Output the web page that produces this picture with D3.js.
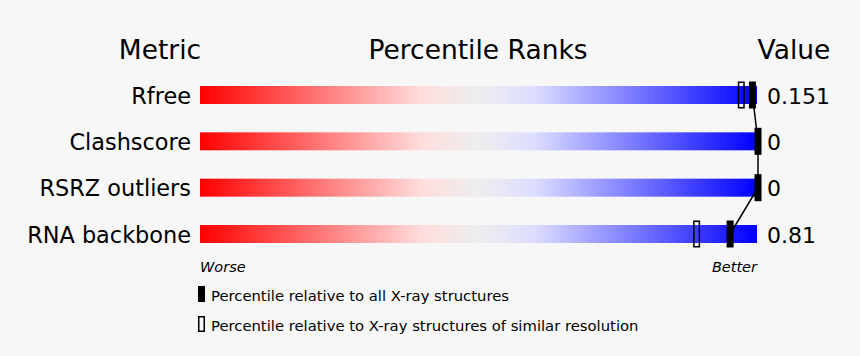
<!DOCTYPE html>
<html><head><meta charset="utf-8">
<script src="https://cdn.jsdelivr.net/npm/d3@7"></script>
<style>body{margin:0;background:#f7f7f7}svg{display:block;font-family:"DejaVu Sans",sans-serif}</style>
</head><body><svg id="c" width="860" height="356"></svg>
<script>
const metrics = ["Rfree", "Clashscore", "RSRZ outliers", "RNA backbone"];
const values = ["0.151", "0", "0", "0.81"];
const pctAll = [99, 100, 100, 95];
const pctSimilar = [97, null, null, 89];
const headers = ["Metric", "Percentile Ranks", "Value"];
const legendLabels = ["Percentile relative to all X-ray structures", "Percentile relative to X-ray structures of similar resolution"];

const svg = d3.select("#c");
svg.append("rect").attr("width",860).attr("height",356).attr("fill","#f7f7f7");
const defs = svg.append("defs");
const g = defs.append("linearGradient").attr("id","grad").attr("x1","0%").attr("x2","100%");
[[0,"#ff0000"],[0.4,"#ffdddd"],[0.5,"#eeeeee"],[0.6,"#ddddff"],[1,"#0000ff"]].forEach(s=>g.append("stop").attr("offset",s[0]).attr("stop-color",s[1]));

const x = d3.scaleLinear().domain([0,100]).range([200,758]);
const y = d3.scalePoint().domain(metrics).range([95,234]);
const barH = 18, mW = 7, mH = 27;

svg.append("text").attr("x",160).attr("y",59).attr("text-anchor","middle").attr("font-size",26.5).text(headers[0]);
svg.append("text").attr("x",478).attr("y",59).attr("text-anchor","middle").attr("font-size",26.5).text(headers[1]);
svg.append("text").attr("x",794).attr("y",59).attr("text-anchor","middle").attr("font-size",26.5).text(headers[2]);

metrics.forEach((m,i)=>{
  const cy = y(m);
  svg.append("rect").attr("x",x(0)).attr("y",cy-barH/2).attr("width",757-x(0)).attr("height",barH).attr("fill","url(#grad)");
  svg.append("text").attr("x",191).attr("y",cy+8.5).attr("text-anchor","end").attr("font-size",22.4).text(m);
  svg.append("text").attr("x",767).attr("y",cy+8.5).attr("font-size",22).text(values[i]);
});

const line = d3.line().x(d=>x(d.p)).y(d=>y(d.m));
svg.append("path").datum(metrics.map((m,i)=>({m,p:pctAll[i]}))).attr("d",line).attr("fill","none").attr("stroke","#000").attr("stroke-width",1.5);

metrics.forEach((m,i)=>{
  const cy = y(m);
  if (pctSimilar[i]!=null)
    svg.append("rect").attr("x",x(pctSimilar[i])-mW/2+0.75).attr("y",cy-mH/2+0.75).attr("width",mW-1.5).attr("height",mH-1.5).attr("fill","none").attr("stroke","#000").attr("stroke-width",1.5);
  svg.append("rect").attr("x",x(pctAll[i])-mW/2).attr("y",cy-mH/2).attr("width",mW).attr("height",mH).attr("fill","#000");
});

svg.append("text").attr("x",200).attr("y",272).attr("font-size",14.5).attr("font-style","italic").text("Worse");
svg.append("text").attr("x",757).attr("y",272).attr("text-anchor","end").attr("font-size",14.5).attr("font-style","italic").text("Better");

svg.append("rect").attr("x",198).attr("y",286).attr("width",7).attr("height",16).attr("fill","#000");
svg.append("rect").attr("x",198.75).attr("y",316.75).attr("width",5.5).attr("height",14.5).attr("fill","none").attr("stroke","#000").attr("stroke-width",1.5);
svg.append("text").attr("x",211).attr("y",301).attr("font-size",14.8).text(legendLabels[0]);
svg.append("text").attr("x",211).attr("y",331).attr("font-size",14.8).text(legendLabels[1]);
</script></body></html>
